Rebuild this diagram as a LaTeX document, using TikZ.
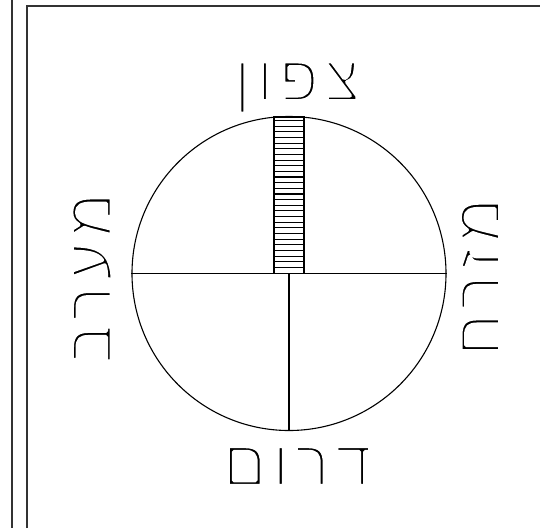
\documentclass[tikz,border=0pt]{standalone}
\usepackage{fontspec}
\newfontfamily\heb[Script=Hebrew,LetterSpace=8]{Liberation Sans}
\TeXXeTstate=1
\newcommand\thinglyphs[1]{\special{pdf:literal direct 2 Tr 1 1 1 RG 3.9 w 1 j}#1\special{pdf:literal direct 0 Tr 0 0 0 RG}}
\tikzset{
  frameline/.style={line width=1.6pt, draw=black!80},
  thinline/.style={line width=1.1pt, draw=black},
  dirlabel/.style={font=\heb\fontsize{66}{70}\selectfont, inner sep=0pt, anchor=center},
}
\begin{document}
\begin{tikzpicture}[x=1pt,y=-1pt]
\useasboundingbox (0,0) rectangle (540,528);
% frame
\coordinate (o1) at (12,0);
\coordinate (o2) at (12,528);
\coordinate (f1) at (27,528);
\coordinate (f2) at (27,6);
\coordinate (f3) at (540,6);
\draw[frameline] (o1) -- (o2);
\draw[frameline] (f1) -- (f2) -- (f3);
% circle
\coordinate (c) at (289,273.5);
\node[draw, circle, thinline, minimum size=314pt, inner sep=0pt] (circ) at (c) {};
% hatched rectangle
\foreach \i in {0,...,27} {
  \draw[line width=1.1pt] (274,{120.5+\i*5.65}) -- (304,{120.5+\i*5.65});
}
\draw[thinline] (274,117) rectangle (304,273.5);
% cross lines
\draw[thinline] (circ.west) -- (circ.east);
\draw[thinline] (c) -- (circ.south);
% labels
\node[dirlabel] (n) at (297,87.5) {\thinglyphs{\beginR צפון\endR}};
\node[dirlabel] (s) at (297,466) {\thinglyphs{\beginR דרום\endR}};
\node[dirlabel, rotate=90] (w) at (92,278) {\thinglyphs{\beginR מערב\endR}};
\node[dirlabel, rotate=90] (e) at (480,277) {\thinglyphs{\beginR מזרח\endR}};
\end{tikzpicture}
\end{document}
